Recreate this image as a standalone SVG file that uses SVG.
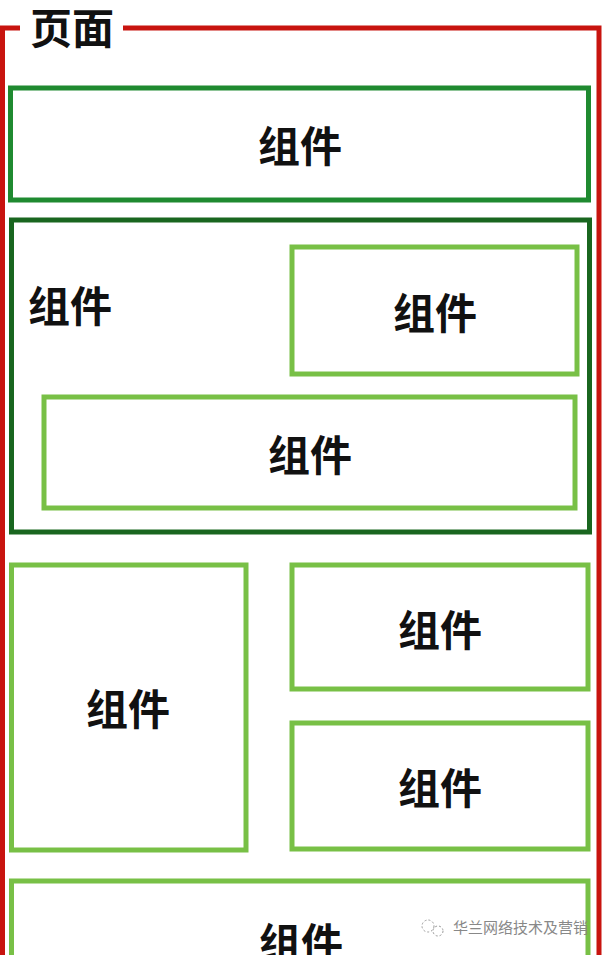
<svg xmlns="http://www.w3.org/2000/svg" width="606" height="955" viewBox="0 0 606 955">
<style>
.t{font-family:"Noto Sans CJK SC","Noto Sans",sans-serif;font-size:42px;font-weight:700;fill:#111;text-anchor:middle;dominant-baseline:central}
.g1{fill:none;stroke:#1f8a30;stroke-width:5}
.g2{fill:none;stroke:#19661f;stroke-width:5}
.g3{fill:none;stroke:#78c046;stroke-width:5}
.wm{font-family:"Noto Sans CJK SC",sans-serif;font-size:15px;fill:#888}
</style>
<rect width="606" height="955" fill="#fff"/>
<g id="page">
<path d="M20 28 H2.5 V955 M123 28 H599 V955" fill="none" stroke="#c8140f" stroke-width="5"/>
<text class="t" x="72" y="25">页面</text>
</g>
<g id="c1"><rect class="g1" x="10.5" y="88" width="578" height="112"/><text class="t" x="300" y="143">组件</text></g>
<g id="c2"><rect class="g2" x="11.5" y="220" width="578" height="312"/><text class="t" x="70" y="303">组件</text></g>
<g id="c3"><rect class="g3" x="292" y="247" width="285" height="127"/><text class="t" x="435" y="310">组件</text></g>
<g id="c4"><rect class="g3" x="44" y="397" width="531" height="111"/><text class="t" x="310" y="452">组件</text></g>
<g id="c5"><rect class="g3" x="11.5" y="565" width="234.5" height="285"/><text class="t" x="128" y="706">组件</text></g>
<g id="c6"><rect class="g3" x="292" y="565" width="296" height="124"/><text class="t" x="440" y="627">组件</text></g>
<g id="c7"><rect class="g3" x="292" y="723" width="296" height="126"/><text class="t" x="440" y="785">组件</text></g>
<g id="c8"><path class="g3" d="M11.5 955 V881 H588 V955"/><text class="t" x="301" y="940">组件</text></g>
<g id="watermark">
<circle cx="428" cy="926" r="6" fill="none" stroke="#999" stroke-width="1" stroke-dasharray="2 2"/>
<circle cx="438" cy="931" r="5" fill="none" stroke="#999" stroke-width="1" stroke-dasharray="2 2"/>
<text class="wm" x="453" y="933">华兰网络技术及营销</text>
</g>
</svg>
